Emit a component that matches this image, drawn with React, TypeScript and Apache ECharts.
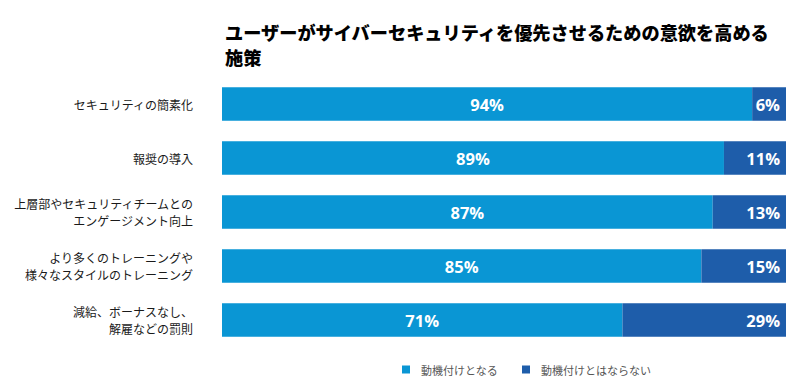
import React, { useEffect, useRef } from "react";
import * as echarts from "echarts";

const categories = [
  "セキュリティの簡素化",
  "報奨の導入",
  "上層部やセキュリティチームとの\nエンゲージメント向上",
  "より多くのトレーニングや\n様々なスタイルのトレーニング",
  "減給、ボーナスなし、\n解雇などの罰則",
];
const motivating = [94, 89, 87, 85, 71];
const notMotivating = [6, 11, 13, 15, 29];
const seriesNames = ["動機付けとなる", "動機付けとはならない"];
const titleText = "ユーザーがサイバーセキュリティを優先させるための意欲を高める\n施策";

const CJK = '"Noto Sans CJK JP", "Noto Sans", sans-serif';

export default function App() {
  const ref = useRef<HTMLDivElement>(null);
  useEffect(() => {
    if (!ref.current) return;
    const chart = echarts.init(ref.current, undefined, { renderer: "svg" });
    const labelStyle = {
      show: true,
      color: "#ffffff",
      fontFamily: '"Open Sans", "Noto Sans", sans-serif',
      fontWeight: "bold" as const,
      fontSize: 16.5,
      formatter: "{c}%",
    };
    chart.setOption({
      animation: false,
      title: {
        text: titleText,
        left: 220,
        top: 14,
        textStyle: {
          fontFamily: CJK,
          fontWeight: 900,
          fontSize: 18.2,
          lineHeight: 25,
          color: "#000000",
        },
      },
      legend: {
        data: seriesNames,
        left: 397,
        top: 359,
        icon: "rect",
        itemWidth: 8,
        itemHeight: 8,
        itemGap: 24,
        textStyle: {
          fontFamily: CJK,
          fontSize: 11,
          color: "#555555",
          padding: [0, 0, 0, 6],
        },
      },
      grid: { left: 222, right: 14, top: 77, bottom: 40, containLabel: false },
      xAxis: {
        type: "value",
        min: 0,
        max: 100,
        show: false,
      },
      yAxis: {
        type: "category",
        data: categories,
        inverse: true,
        axisLine: { show: false },
        axisTick: { show: false },
        axisLabel: {
          fontFamily: CJK,
          fontSize: 12,
          lineHeight: 17,
          color: "#1a1a1a",
          margin: 29,
          align: "right",
        },
      },
      series: [
        {
          name: seriesNames[0],
          type: "bar",
          stack: "total",
          data: motivating,
          barCategoryGap: "38%",
          itemStyle: { color: "#0a96d4" },
          label: { ...labelStyle, position: "inside" },
        },
        {
          name: seriesNames[1],
          type: "bar",
          stack: "total",
          data: notMotivating,
          itemStyle: { color: "#1e5daa" },
          label: { ...labelStyle, position: "insideRight", distance: 6 },
        },
      ],
    });
    return () => chart.dispose();
  }, []);
  return <div ref={ref} style={{ width: 800, height: 387, margin: -8 }} />;
}
